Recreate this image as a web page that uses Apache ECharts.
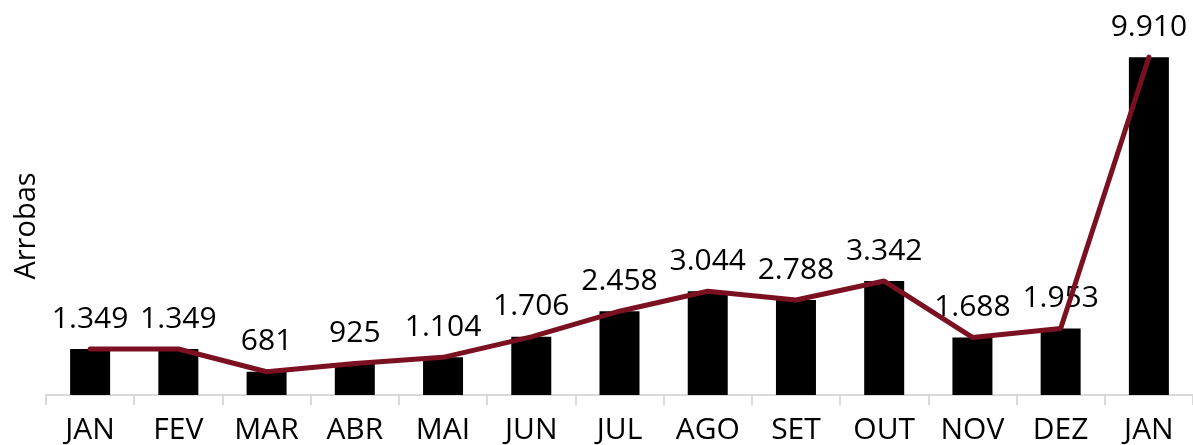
<!DOCTYPE html>
<html><head><meta charset="utf-8">
<script src="https://cdn.jsdelivr.net/npm/echarts@6/dist/echarts.min.js"></script>
<style>html,body{margin:0;padding:0;background:#fff}#c{width:1193px;height:445px}</style>
</head><body><div id="c"></div>
<script>
const categories = ['JAN','FEV','MAR','ABR','MAI','JUN','JUL','AGO','SET','OUT','NOV','DEZ','JAN'];
const values = [1349,1349,681,925,1104,1706,2458,3044,2788,3342,1688,1953,9910];
const yName = 'Arrobas';
const fmt = v => v.toLocaleString('pt-BR');
const chart = echarts.init(document.getElementById('c'));
chart.setOption({
  animation:false,
  grid:{left:46,right:0,top:20,bottom:50},
  xAxis:{type:'category',data:categories,
    axisLine:{lineStyle:{color:'#d9d9d9',width:2}},
    axisTick:{show:true,length:10,lineStyle:{color:'#d9d9d9',width:2}},
    axisLabel:{color:'#000',fontSize:30,fontFamily:'Open Sans',margin:20}},
  yAxis:{type:'value',min:0,max:11000,show:false},
  graphic:[{type:'text',x:27,y:226,rotation:Math.PI/2,
    style:{text:yName,fontSize:29,fontFamily:'Open Sans',fill:'#000',textAlign:'center',textVerticalAlign:'middle'}}],
  series:[
    {type:'bar',data:values,barWidth:40,itemStyle:{color:'#000'},
     label:{show:true,position:'top',distance:15,color:'#000',fontSize:30,fontFamily:'Open Sans',formatter:p=>fmt(p.value)}},
    {type:'line',data:values,symbol:'none',lineStyle:{color:'#7A1020',width:5,cap:'round'},z:3}
  ]
});
</script></body></html>
